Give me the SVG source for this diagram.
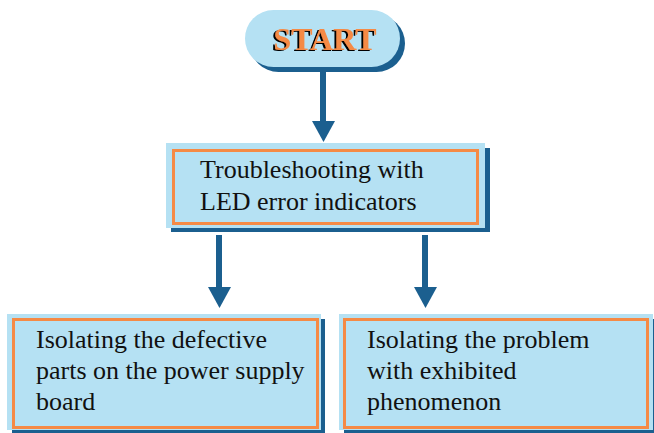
<svg xmlns="http://www.w3.org/2000/svg" width="654" height="433" viewBox="0 0 654 433">
<defs>
<style>
.shadow{fill:#1b5f8f}
.fill{fill:#b5e1f3}
.frame{fill:none;stroke:#f58a45;stroke-width:3}
.lbl{font-family:"Liberation Serif","Times New Roman",serif;font-size:26px;fill:#111}
.start{font-family:"Liberation Serif","Times New Roman",serif;font-size:32px;font-weight:bold;fill:#f58a45}
.shaft{stroke:#1b5f8f;stroke-width:6;fill:none}
.head{fill:#1b5f8f}
</style>
<filter id="ts" x="-10%" y="-20%" width="120%" height="140%">
<feFlood flood-color="#000"/>
<feComposite in2="SourceAlpha" operator="in"/>
<feOffset dx="-2" dy="1"/>
<feMerge><feMergeNode/><feMergeNode in="SourceGraphic"/></feMerge>
</filter>
</defs>
<rect width="654" height="433" fill="#fff"/>
<g id="connectors">
<line class="shaft" x1="323" y1="70" x2="323" y2="124"/>
<polygon class="head" points="312,121 335,121 323.5,142"/>
<line class="shaft" x1="219" y1="235" x2="219" y2="290"/>
<polygon class="head" points="208,287 231,287 219.5,308"/>
<line class="shaft" x1="425" y1="235" x2="425" y2="290"/>
<polygon class="head" points="414,287 437,287 425.5,308"/>
</g>
<g id="start">
<rect class="shadow" x="250" y="15" width="155" height="57" rx="28.5"/>
<rect class="fill" x="245" y="10" width="155" height="57" rx="28.5"/>
<text class="start" x="325" y="50" text-anchor="middle" filter="url(#ts)">START</text>
</g>
<g id="troubleshoot">
<rect class="shadow" x="171" y="148" width="319" height="84"/>
<rect class="fill" x="166" y="143" width="319" height="85"/>
<rect class="frame" x="173.5" y="150.5" width="304" height="73"/>
<text class="lbl" x="200" y="178">Troubleshooting with</text>
<text class="lbl" x="200" y="210">LED error indicators</text>
</g>
<g id="isolate-parts">
<rect class="shadow" x="12" y="319" width="313" height="114"/>
<rect class="fill" x="7" y="314" width="314" height="116"/>
<rect class="frame" x="13.5" y="319.5" width="304" height="108"/>
<text class="lbl" x="36" y="348">Isolating the defective</text>
<text class="lbl" x="36" y="379">parts on the power supply</text>
<text class="lbl" x="36" y="410">board</text>
</g>
<g id="isolate-problem">
<rect class="shadow" x="344" y="319" width="310" height="114"/>
<rect class="fill" x="339" y="314" width="314" height="116"/>
<rect class="frame" x="344.5" y="319.5" width="303" height="108"/>
<text class="lbl" x="367" y="348">Isolating the problem</text>
<text class="lbl" x="367" y="379">with exhibited</text>
<text class="lbl" x="367" y="410">phenomenon</text>
</g>
</svg>
